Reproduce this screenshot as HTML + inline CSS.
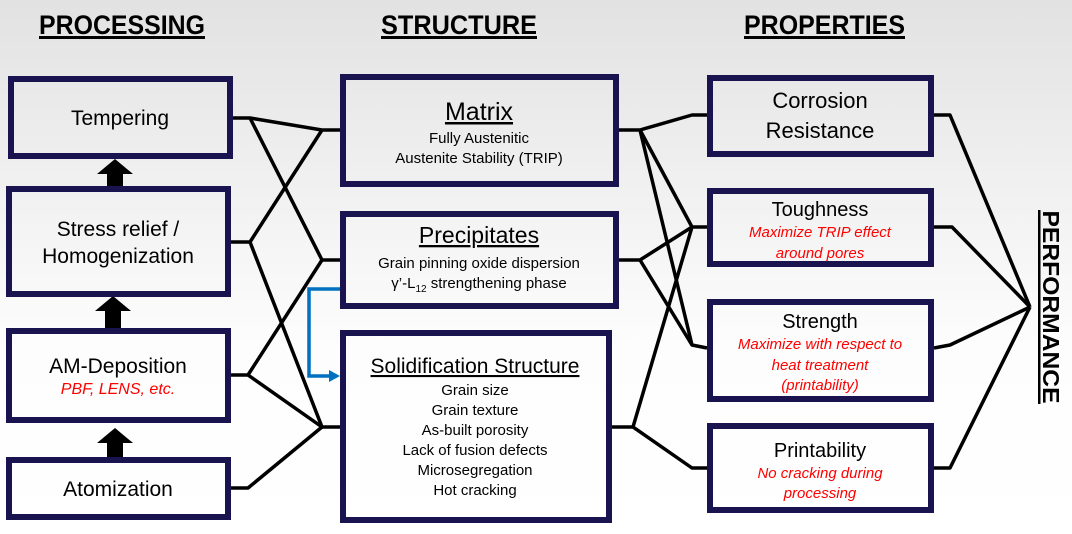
<!DOCTYPE html>
<html><head><meta charset="utf-8"><style>
html,body{margin:0;padding:0;width:1072px;height:534px;overflow:hidden}
svg{display:block}
text{font-family:"Liberation Sans",Arial,sans-serif;fill:#000}
.r{fill:#ff0000;font-style:italic}
</style></head><body>
<svg width="1072" height="534" viewBox="0 0 1072 534" xmlns="http://www.w3.org/2000/svg">
<defs><linearGradient id="bg" x1="0" y1="0" x2="0" y2="1"><stop offset="0" stop-color="#e2e2e2"/><stop offset="0.65" stop-color="#fdfdfd"/><stop offset="1" stop-color="#ffffff"/></linearGradient></defs>
<rect width="1072" height="534" fill="url(#bg)"/>
<!-- headers -->
<g font-weight="bold" font-size="27">
<text x="39" y="34" textLength="166" lengthAdjust="spacingAndGlyphs">PROCESSING</text>
<text x="381" y="34" textLength="156" lengthAdjust="spacingAndGlyphs">STRUCTURE</text>
<text x="744" y="34" textLength="161" lengthAdjust="spacingAndGlyphs">PROPERTIES</text>
</g>
<g fill="#000"><rect x="39" y="36" width="166" height="3"/><rect x="381" y="36" width="156" height="3"/><rect x="744" y="36" width="161" height="3"/></g>
<!-- connectors -->
<g stroke="#000" stroke-width="3.5" fill="none" stroke-linejoin="round">
<polyline points="233,118 250,118 322,130 340,130"/>
<polyline points="250,118 322,260 340,260"/>
<polyline points="231,242 250,242 322,130"/>
<polyline points="250,242 322,427 340,427"/>
<polyline points="231,375 248,375 322,260"/>
<polyline points="248,375 322,427"/>
<polyline points="231,488 248,488 322,427"/>
<polyline points="619,130 640,130 692,115 707,115"/>
<polyline points="640,130 692,227 707,227"/>
<polyline points="640,130 692,345 707,348"/>
<polyline points="619,260 640,260 692,227"/>
<polyline points="640,260 692,345"/>
<polyline points="612,427 633,427 692,227"/>
<polyline points="633,427 692,468 707,468"/>
<polyline points="934,115 950,115 1030,307"/>
<polyline points="934,227 952,227 1030,307"/>
<polyline points="934,348 950,345 1030,307"/>
<polyline points="934,468 950,468 1030,307"/>
</g>
<!-- blue -->
<polyline points="342,289 309,289 309,376 330,376" stroke="#0070c0" stroke-width="3.5" fill="none"/>
<polygon points="329,370 340,376 329,382" fill="#0070c0"/>
<!-- up arrows -->
<g fill="#000">
<polygon points="97,174 115,159 133,174"/><rect x="107" y="173" width="16" height="14"/>
<polygon points="95,311 113,296 131,311"/><rect x="105" y="310" width="16" height="19"/>
<polygon points="97,443 115,428 133,443"/><rect x="107" y="442" width="16" height="16"/>
</g>
<!-- boxes -->
<g fill="none" stroke="#191450" stroke-width="6">
<rect x="11" y="79" width="219" height="77"/>
<rect x="9" y="189" width="219" height="105"/>
<rect x="9" y="331" width="219" height="89"/>
<rect x="9" y="460" width="219" height="57"/>
<rect x="343" y="77" width="273" height="107"/>
<rect x="343" y="214" width="273" height="92"/>
<rect x="343" y="333" width="266" height="187"/>
<rect x="710" y="78" width="221" height="76"/>
<rect x="710" y="191" width="221" height="73"/>
<rect x="710" y="302" width="221" height="97"/>
<rect x="710" y="426" width="221" height="84"/>
</g>
<!-- left text -->
<g font-size="21" text-anchor="middle">
<text x="120" y="125">Tempering</text>
<text x="118" y="236">Stress relief /</text>
<text x="118" y="263">Homogenization</text>
<text x="118" y="373">AM-Deposition</text>
<text x="118" y="496">Atomization</text>
</g>
<text x="118" y="394" font-size="16" text-anchor="middle" class="r">PBF, LENS, etc.</text>
<!-- middle text -->
<g text-anchor="middle">
<text x="479" y="120" font-size="25" text-decoration="underline">Matrix</text>
<text x="479" y="143" font-size="15">Fully Austenitic</text>
<text x="479" y="163" font-size="15">Austenite Stability (TRIP)</text>
<text x="479" y="243" font-size="23" text-decoration="underline">Precipitates</text>
<text x="479" y="268" font-size="15">Grain pinning oxide dispersion</text>
<text x="479" y="288" font-size="15">γ’-L<tspan font-size="10" dy="4">12</tspan><tspan dy="-4"> strengthening phase</tspan></text>
<text x="475" y="373" font-size="21" text-decoration="underline">Solidification Structure</text>
<text x="475" y="395" font-size="15">Grain size</text>
<text x="475" y="415" font-size="15">Grain texture</text>
<text x="475" y="435" font-size="15">As-built porosity</text>
<text x="475" y="455" font-size="15">Lack of fusion defects</text>
<text x="475" y="475" font-size="15">Microsegregation</text>
<text x="475" y="495" font-size="15">Hot cracking</text>
</g>
<!-- right text -->
<g text-anchor="middle">
<text x="820" y="108" font-size="22">Corrosion</text>
<text x="820" y="138" font-size="22">Resistance</text>
<text x="820" y="216" font-size="20">Toughness</text>
<text x="820" y="237" font-size="15" class="r">Maximize TRIP effect</text>
<text x="820" y="258" font-size="15" class="r">around pores</text>
<text x="820" y="328" font-size="20">Strength</text>
<text x="820" y="349" font-size="15" class="r">Maximize with respect to</text>
<text x="820" y="370" font-size="15" class="r">heat treatment</text>
<text x="820" y="390" font-size="15" class="r">(printability)</text>
<text x="820" y="457" font-size="20">Printability</text>
<text x="820" y="478" font-size="15" class="r">No cracking during</text>
<text x="820" y="498" font-size="15" class="r">processing</text>
</g>
<!-- performance -->
<text transform="translate(1043,307) rotate(90)" font-size="23" font-weight="bold" text-anchor="middle" textLength="193" lengthAdjust="spacingAndGlyphs">PERFORMANCE</text>
<rect x="1038" y="210" width="2.5" height="194" fill="#000"/>
</svg>
</body></html>
